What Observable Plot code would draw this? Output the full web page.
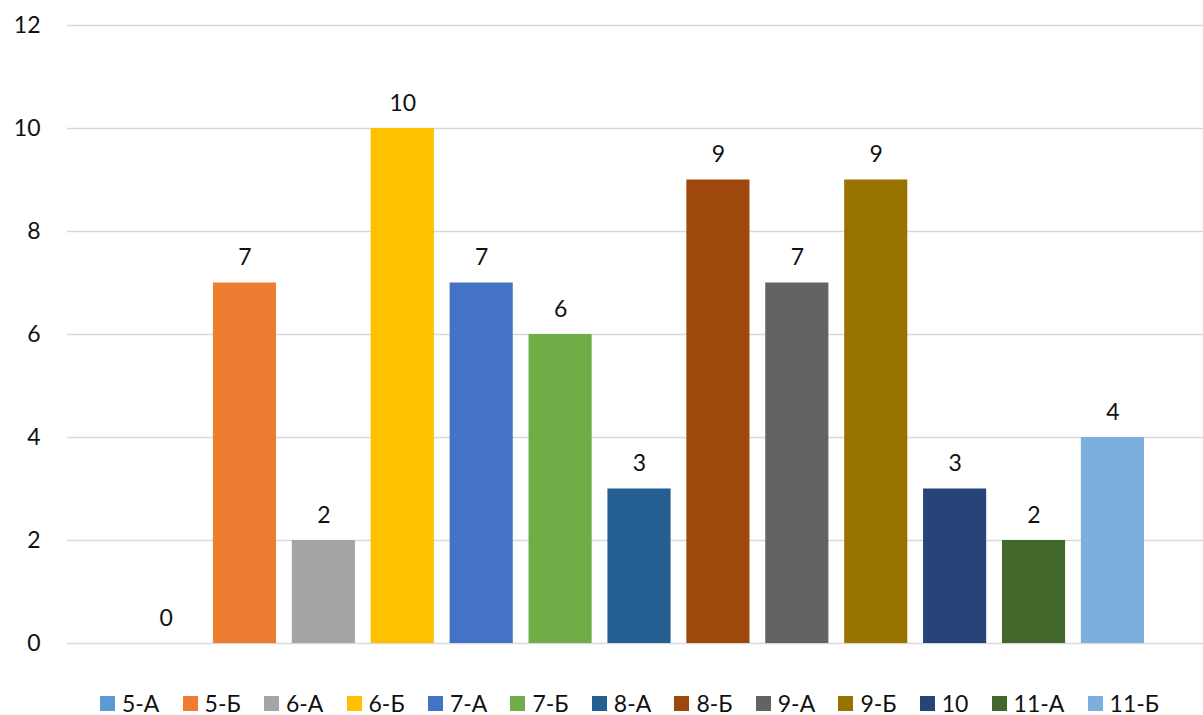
<!DOCTYPE html>
<html>
<head>
<meta charset="utf-8">
<script src="https://cdn.jsdelivr.net/npm/d3@7"></script>
<script src="https://cdn.jsdelivr.net/npm/@observablehq/plot@0.6"></script>
<style>
  html, body { margin: 0; padding: 0; background: #fff; }
  body { width: 1203px; font-family: Lato, "Open Sans", sans-serif; }
  #chart svg { display: block; }
  #legend { display: flex; justify-content: center; align-items: center; height: 24px; line-height: 24px; margin-top: 26px; margin-left: 56px; font-size: 23px; color: #111; }
  .item { display: flex; align-items: center; margin: 0 11.6px; }
  .sw { width: 15px; height: 15px; margin-right: 7px; }
</style>
</head>
<body>
<div id="chart"></div>
<div id="legend"></div>
<script>
const categories = ["5-А","5-Б","6-А","6-Б","7-А","7-Б","8-А","8-Б","9-А","9-Б","10","11-А","11-Б"];
const values = [0, 7, 2, 10, 7, 6, 3, 9, 7, 9, 3, 2, 4];
const colors = ["#5B9BD5","#ED7D31","#A5A5A5","#FFC000","#4472C4","#70AD47","#255E91","#9E480E","#636363","#997300","#264478","#43682B","#7CAFDD"];
const yTicks = [0, 2, 4, 6, 8, 10, 12];

const data = categories.map((c, i) => ({cls: c, value: values[i]}));

const chart = Plot.plot({
  width: 1203,
  height: 665,
  marginLeft: 67,
  marginRight: 0,
  marginTop: 25,
  marginBottom: 22,
  style: {fontFamily: "Lato, 'Open Sans', sans-serif", fontSize: "23px", color: "#111", background: "#fff"},
  x: {domain: categories, paddingInner: 0.2, paddingOuter: 0, round: false, insetLeft: 67, insetRight: 59, axis: null},
  y: {domain: [0, 12], ticks: yTicks},
  color: {domain: categories, range: colors},
  marks: [
    Plot.ruleY(yTicks, {stroke: "#d9d9d9", strokeWidth: 1.5}),
    Plot.axisY({ticks: yTicks, tickSize: 0, tickPadding: 27, label: null, fontSize: 23, fill: "#111"}),
    Plot.barY(data, {x: "cls", y: "value", fill: "cls"}),
    Plot.text(data, {x: "cls", y: "value", text: d => String(d.value), lineAnchor: "bottom", dy: -18, fontSize: 23, fill: "#111"})
  ]
});
document.getElementById("chart").appendChild(chart);

const legend = document.getElementById("legend");
categories.forEach((c, i) => {
  const item = document.createElement("div");
  item.className = "item";
  const sw = document.createElement("span");
  sw.className = "sw";
  sw.style.background = colors[i];
  const lab = document.createElement("span");
  lab.textContent = c;
  item.appendChild(sw);
  item.appendChild(lab);
  legend.appendChild(item);
});
</script>
</body>
</html>
